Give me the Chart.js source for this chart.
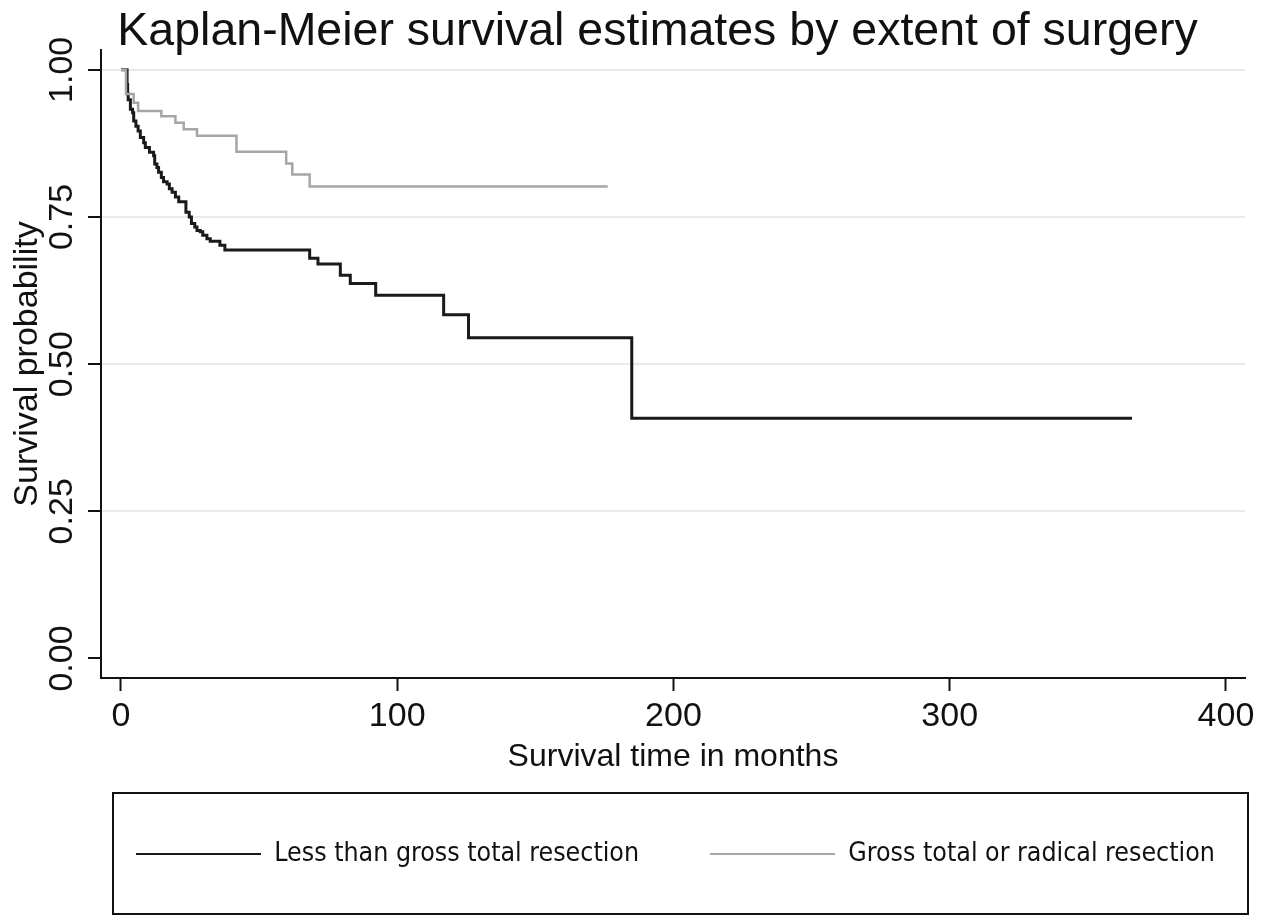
<!DOCTYPE html>
<html>
<head>
<meta charset="utf-8">
<script src="https://cdn.jsdelivr.net/npm/chart.js@4.4.1/dist/chart.umd.min.js"></script>
<style>
  html, body { margin: 0; padding: 0; background: #fff; }
  #wrap { width: 1272px; height: 919px; }
</style>
</head>
<body>
<div id="wrap"><canvas id="km"></canvas></div>
<script>
const xTicks = [0, 100, 200, 300, 400];
const yTicks = [0, 0.25, 0.5, 0.75, 1];

// Less than gross total resection (step points: time, survival after the step)
const partialTimes = [0, 2.2, 2.4, 2.6, 3.4, 4.2, 4.6, 5.4, 6.2, 7.0, 8.2, 8.8, 10.3, 11.8, 12.2, 13.0, 13.6, 14.6, 15.4, 16.7,
  17.5, 18.5, 19.7, 20.9, 23.5, 24.7, 25.5, 26.7, 27.5, 28.7, 29.6, 31.1, 32.3, 35.8, 37.6, 68.3, 71.3, 79.4, 83.0, 92.2,
  116.8, 125.8, 184.9, 366];
const partialSurv = [1, 0.975, 0.959, 0.949, 0.933, 0.927, 0.913, 0.904, 0.896, 0.885, 0.876, 0.868, 0.860, 0.854, 0.840, 0.834, 0.826, 0.817, 0.810, 0.806,
  0.798, 0.792, 0.784, 0.776, 0.758, 0.750, 0.739, 0.733, 0.727, 0.725, 0.719, 0.713, 0.709, 0.702, 0.694, 0.680, 0.670, 0.651, 0.637, 0.617,
  0.584, 0.545, 0.408, 0.408];

// Gross total or radical resection
const grossTimes = [0, 1.8, 4.6, 6.2, 14.6, 19.7, 22.7, 27.5, 41.8, 59.8, 62.0, 68.3, 176.2];
const grossSurv = [1, 0.959, 0.944, 0.930, 0.921, 0.910, 0.899, 0.888, 0.861, 0.841, 0.822, 0.802, 0.802];

const toPoints = (times, surv) => times.map((t, i) => ({ x: t, y: surv[i] }));

const ink = "#111";
const sans = "'Liberation Sans', Arial, sans-serif";
const narrow = "'Liberation Sans Narrow', 'DejaVu Sans Condensed', sans-serif";
const legendPad = 71;
const legendFont = 26.5;

// stata-ish framing: shift title/legend and draw the legend box
const stataFrame = {
  id: "stataFrame",
  afterLayout(chart) {
    const { titleBlock, legend, chartArea } = chart;
    titleBlock.left += 35;
    titleBlock.right += 35;
    const start = (legend.left + legendPad + legend.right - legend.lineWidths[0]) / 2;
    const shift = chartArea.left + 35 - start;
    legend.left += shift;
    legend.right += shift;
  },
  afterDraw(chart) {
    const { ctx, legend, chartArea } = chart;
    const mid = legend.top + legendPad + legendFont / 2;
    ctx.save();
    ctx.strokeStyle = ink;
    ctx.lineWidth = 2;
    ctx.strokeRect(chartArea.left + 12, mid - 61, chartArea.right - chartArea.left - 9, 121);
    ctx.restore();
  },
};

new Chart(document.getElementById("km"), {
  type: "line",
  data: {
    datasets: [
      {
        label: "Less than gross total resection",
        data: toPoints(partialTimes, partialSurv),
        borderColor: "#1a1a1a",
        backgroundColor: "#1a1a1a",
        borderWidth: 3,
        stepped: true,
        pointRadius: 0,
        fill: false,
        order: 1,
      },
      {
        label: "Gross total or radical resection",
        data: toPoints(grossTimes, grossSurv),
        borderColor: "#a6a6a6",
        backgroundColor: "#a6a6a6",
        borderWidth: 2.5,
        stepped: true,
        pointRadius: 0,
        fill: false,
        order: 0,
      },
    ],
  },
  options: {
    responsive: true,
    maintainAspectRatio: false,
    animation: false,
    layout: { padding: { top: 0, right: 27, bottom: 41.75, left: 0 } },
    plugins: {
      tooltip: { enabled: false },
      title: {
        display: true,
        text: "Kaplan-Meier survival estimates by extent of surgery",
        color: ink,
        font: { family: sans, size: 46.5, weight: "normal", lineHeight: 1.0 },
        padding: { top: 9, bottom: -5.5 },
      },
      legend: {
        position: "bottom",
        labels: {
          color: ink,
          font: { family: narrow, size: legendFont },
          boxWidth: 125,
          boxHeight: 2,
          padding: legendPad,
          sort: (a, b) => a.datasetIndex - b.datasetIndex,
          generateLabels: (chart) =>
            Chart.defaults.plugins.legend.labels
              .generateLabels(chart)
              .map((item) => ({ ...item, fillStyle: item.strokeStyle, lineWidth: 0 })),
        },
      },
    },
    scales: {
      x: {
        type: "linear",
        min: -7.24,
        max: 406.9,
        afterBuildTicks: (axis) => {
          axis.ticks = xTicks.map((v) => ({ value: v }));
        },
        border: { color: ink, width: 2 },
        grid: { drawOnChartArea: false, tickLength: 13, tickColor: ink, tickWidth: 2 },
        ticks: { color: ink, padding: 5, font: { family: sans, size: 34 } },
        title: {
          display: true,
          text: "Survival time in months",
          color: ink,
          font: { family: sans, size: 32 },
          padding: { top: -4, bottom: -6.45 },
        },
      },
      y: {
        min: -0.0332,
        max: 1.0337,
        afterBuildTicks: (axis) => {
          axis.ticks = yTicks.map((v) => ({ value: v }));
        },
        afterFit: (axis) => {
          axis.width = 101;
        },
        border: { color: ink, width: 2 },
        grid: {
          color: (c) => (c.tick && c.tick.value === 0 ? "rgba(0,0,0,0)" : "#e3edef"),
          lineWidth: 2,
          tickLength: 13,
          tickColor: ink,
          tickWidth: 2,
        },
        ticks: {
          color: ink,
          minRotation: 90,
          maxRotation: 90,
          crossAlign: "center",
          padding: -8,
          font: { family: sans, size: 34 },
          callback: (v) => v.toFixed(2),
        },
        title: {
          display: true,
          text: "Survival probability",
          color: ink,
          font: { family: sans, size: 34 },
          padding: { top: 7, bottom: 0 },
        },
      },
    },
  },
  plugins: [stataFrame],
});
</script>
</body>
</html>
